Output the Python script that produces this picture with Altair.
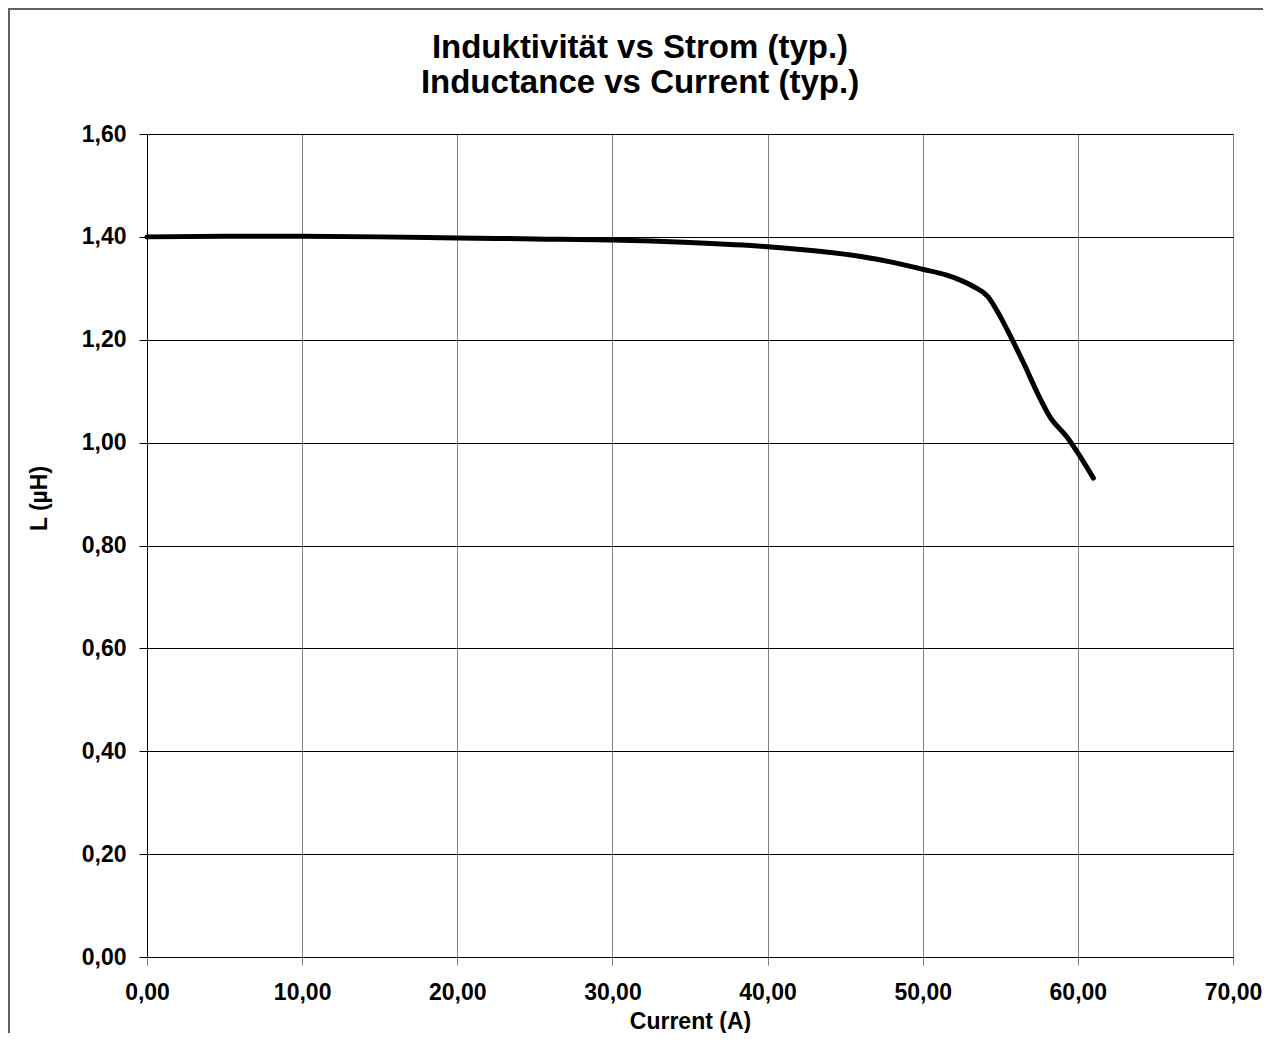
import altair as alt
import pandas as pd

current = [0, 5, 10, 15, 20, 25, 30, 35, 40, 43, 46, 48, 50, 51.5, 52.5, 53.3,
           54.2, 55, 55.75, 56.5, 57.4, 58.2, 59.3, 60, 61]
inductance = [1.400, 1.401, 1.401, 1.400, 1.398, 1.396, 1.394, 1.389, 1.381, 1.373,
              1.362, 1.351, 1.337, 1.326, 1.315, 1.303, 1.284, 1.245, 1.201, 1.155,
              1.096, 1.050, 1.011, 0.980, 0.931]

x_ticks = [0, 10, 20, 30, 40, 50, 60, 70]
y_ticks = [0, 0.2, 0.4, 0.6, 0.8, 1.0, 1.2, 1.4, 1.6]

df = pd.DataFrame({"I": current, "L": inductance})

FONT = "Liberation Sans"
label_expr = "replace(format(datum.value, '.2f'), '.', ',')"

x_enc = alt.X(
    "I:Q",
    scale=alt.Scale(domain=[0, 70], nice=False),
    axis=alt.Axis(
        values=x_ticks,
        labelExpr=label_expr,
        title="Current (A)",
        grid=True,
        gridColor="#808080",
        gridWidth=1,
        domainColor="black",
        tickColor="#808080",
        tickSize=8,
        labelPadding=34,
        labelBaseline="alphabetic",
        labelFont=FONT,
        labelFontSize=23,
        labelFontWeight="bold",
        labelColor="black",
        labelFlush=False,
        titleFont=FONT,
        titleFontSize=23,
        titleFontWeight="bold",
        titleColor="black",
        titleBaseline="alphabetic",
        titleY=71,
    ),
)

y_enc = alt.Y(
    "L:Q",
    scale=alt.Scale(domain=[0, 1.6], nice=False),
    axis=alt.Axis(
        values=y_ticks,
        labelExpr=label_expr,
        title="L (µH)",
        grid=True,
        gridColor="black",
        gridWidth=1,
        domainColor="black",
        tickColor="black",
        tickSize=8,
        labelPadding=13,
        labelFont=FONT,
        labelFontSize=23,
        labelFontWeight="bold",
        labelColor="black",
        labelFlush=False,
        titleFont=FONT,
        titleFontSize=23,
        titleFontWeight="bold",
        titleColor="black",
        titleAngle=270,
        titleAlign="center",
        titleBaseline="middle",
        titleX=-108,
        titleY=364,
    ),
)

line = alt.Chart(df).mark_line(
    color="black", strokeWidth=5, interpolate="monotone", strokeCap="round"
).encode(x=x_enc, y=y_enc)

frame = alt.Chart(df).mark_rect(
    fill=None, fillOpacity=0, stroke="#606060", strokeWidth=1.5
).encode(
    x=alt.value(-138),
    x2=alt.value(1300),
    y=alt.value(-125),
    y2=alt.value(1100),
)

chart = alt.layer(frame, line).properties(
    width=1086,
    height=823,
    padding={"left": 139, "top": 126, "right": 30, "bottom": 76},
    autosize=alt.AutoSizeParams(type="none"),
    title=alt.Title(
        ["Induktivität vs Strom (typ.)", "Inductance vs Current (typ.)"],
        font=FONT,
        fontSize=33,
        fontWeight="bold",
        color="black",
        anchor="middle",
        frame="group",
        dx=-50,
        offset=-92,
        lineHeight=35,
    ),
).configure_view(
    stroke="black", strokeWidth=1
).configure(background="white")

chart.save("out.html", embed_options={"renderer": "svg", "actions": False})
